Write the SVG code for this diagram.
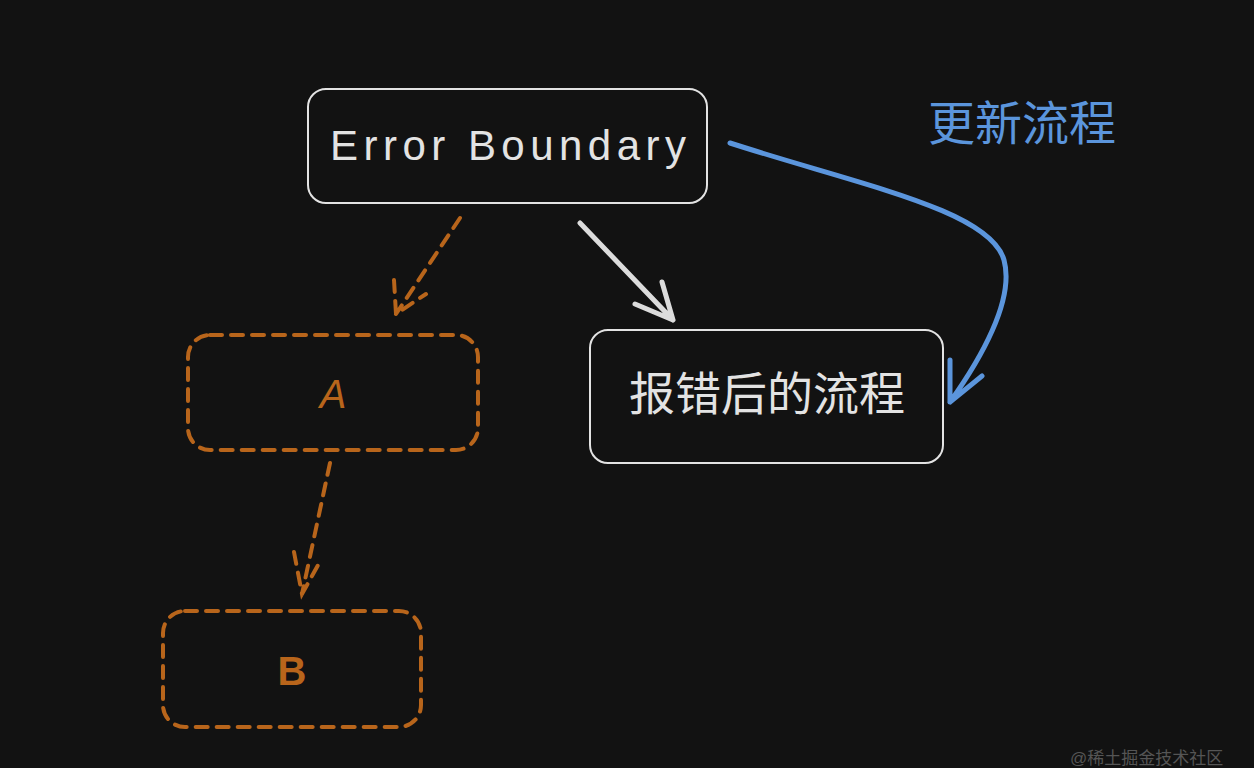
<svg xmlns="http://www.w3.org/2000/svg" width="1254" height="768" viewBox="0 0 1254 768">
<style>
.w{fill:none;stroke:#e3e3e3;stroke-width:2}
.o{fill:none;stroke:#b8651b;stroke-width:4;stroke-dasharray:12 9;stroke-linecap:round}
.t{font-family:"Liberation Sans","Noto Sans CJK SC",sans-serif}
</style>
<rect width="1254" height="768" fill="#121212"/>
<g id="eb"><rect class="w" x="308" y="89" width="399" height="114" rx="18"/><text class="t" x="508" y="160" font-size="42" fill="#e3e3e3" text-anchor="middle" textLength="356">Error Boundary</text></g>
<g id="a"><rect class="o" x="188" y="335" width="290" height="115" rx="22"/><text class="t" x="333" y="408" font-size="40" font-style="italic" fill="#b8651b" text-anchor="middle">A</text></g>
<g id="b"><rect class="o" x="163" y="611" width="258" height="116" rx="22"/><text class="t" x="292" y="685" font-size="40" font-weight="bold" fill="#b8651b" text-anchor="middle">B</text></g>
<g id="err"><rect class="w" x="590" y="330" width="353" height="133" rx="18"/><text class="t" x="767" y="410" font-size="46" fill="#e3e3e3" text-anchor="middle">报错后的流程</text></g>
<g id="lbl"><text class="t" x="1022" y="140" font-size="47" fill="#5b95dc" text-anchor="middle">更新流程</text></g>
<g id="connectors">
<path class="o" d="M460 218 L396 314 M394 280 L396 314 L426 294"/>
<path class="o" d="M330 463 L302 594 M294 552 L302 594 L322 558"/>
<path d="M580 223 L673 320 M662 282 L673 320 L635 304" fill="none" stroke="#dcdcdc" stroke-width="5" stroke-linecap="round" stroke-linejoin="round"/>
<path d="M730 143 C860 185 990 210 1004 260 C1015 300 980 360 950 402 M950 360 L950 402 L982 376" fill="none" stroke="#5b95dc" stroke-width="5" stroke-linecap="round" stroke-linejoin="round"/>
</g>
<text class="t" x="1070" y="764" font-size="17" fill="#555">@稀土掘金技术社区</text>
</svg>
